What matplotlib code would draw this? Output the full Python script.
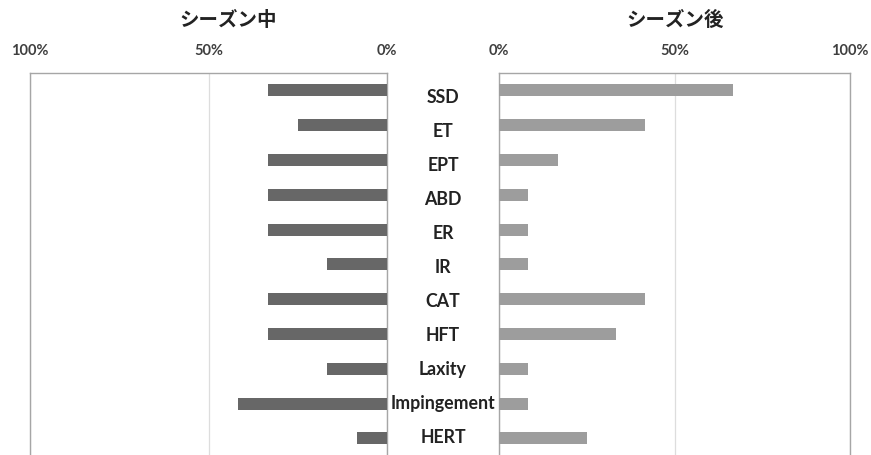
import matplotlib
matplotlib.use("Agg")
import matplotlib.pyplot as plt
import matplotlib.transforms as mtransforms

plt.rcParams['font.family'] = ['Lato', 'Noto Sans CJK JP', 'DejaVu Sans']

categories = ["SSD", "ET", "EPT", "ABD", "ER", "IR", "CAT", "HFT", "Laxity", "Impingement", "HERT"]
in_season = [33.3, 25.0, 33.3, 33.3, 33.3, 16.7, 33.3, 33.3, 16.7, 41.7, 8.3]
post_season = [66.7, 41.7, 16.7, 8.3, 8.3, 8.3, 41.7, 33.3, 8.3, 8.3, 25.0]
tick_vals = [0, 50, 100]
tick_labels = ["0%", "50%", "100%"]
title_left = "シーズン中"
title_right = "シーズン後"

W, H = 871, 456
fig = plt.figure(figsize=(W / 100, H / 100), dpi=100)
fig.patch.set_facecolor("white")

top_px = 74
step_px = 34.8
bottom_px = top_px + len(categories) * step_px
bottom = (H - bottom_px) / H
top = (H - top_px) / H
axL = fig.add_axes([30 / W, bottom, (387 - 30) / W, top - bottom])
axR = fig.add_axes([499 / W, bottom, (850 - 499) / W, top - bottom])

ypos = list(range(len(categories)))
bar_h = 0.35

axL.barh(ypos, in_season, height=bar_h, color="#676767", zorder=3)
axR.barh(ypos, post_season, height=bar_h, color="#9d9d9d", zorder=3)

for ax, inv in ((axL, True), (axR, False)):
    ax.set_ylim(len(categories) - 0.5, -0.5)
    if inv:
        ax.set_xlim(100, 0)
    else:
        ax.set_xlim(0, 100)
    ax.set_yticks([])
    ax.xaxis.tick_top()
    ax.set_xticks(tick_vals)
    ax.set_xticklabels(tick_labels, fontsize=10.5, fontweight="bold", color="#3f3f3f")
    ax.tick_params(axis="x", length=0, pad=11.5)
    ax.grid(axis="x", color="#dddddd", linewidth=0.9, zorder=0)
    for s in ax.spines.values():
        s.set_color("#a6a6a6")
        s.set_linewidth(1.0)

fig.text(228 / W, 1 - 19 / H, title_left, ha="center", va="center", fontsize=14, fontweight="bold", color="#222222")
fig.text(675 / W, 1 - 19 / H, title_right, ha="center", va="center", fontsize=14, fontweight="bold", color="#222222")

# category labels sit in the gap between the panels (baseline positions)
trans = mtransforms.blended_transform_factory(fig.transFigure, axL.transData)
for i, c in enumerate(categories):
    yb = 0.342 + i * 0.977
    fig.text(443 / W, yb, c, transform=trans, ha="center", va="baseline",
             fontsize=12.8, fontweight="bold", color="#222222")

fig.savefig("out.png", dpi=100, facecolor="white")
